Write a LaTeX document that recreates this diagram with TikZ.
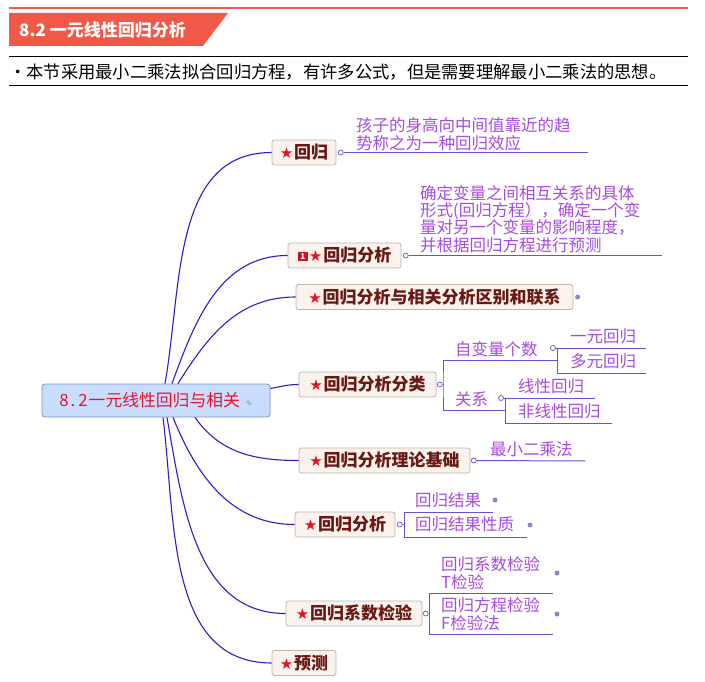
\documentclass[tikz,border=0pt]{standalone}
\usepackage{fontspec}
\newfontfamily\cjk{Noto Sans CJK SC}
\newfontfamily\symb{DejaVu Sans}
\usepackage{xcolor}
\usepackage{tikz}
\usetikzlibrary{positioning, calc}

\definecolor{bannerred}{RGB}{242,88,72}
\definecolor{branchblue}{RGB}{62,22,200}
\definecolor{leafpurple}{RGB}{168,75,225}
\definecolor{leafline}{RGB}{105,80,215}
\definecolor{boxfill}{RGB}{250,242,237}
\definecolor{boxdraw}{RGB}{195,180,172}
\definecolor{boxtext}{RGB}{105,25,20}
\definecolor{rootfill}{RGB}{200,220,252}
\definecolor{rootdraw}{RGB}{125,145,200}
\definecolor{roottext}{RGB}{235,20,45}
\definecolor{starred}{RGB}{228,20,30}
\definecolor{iconred}{RGB}{200,20,30}
\definecolor{dotblue}{RGB}{140,135,205}
\definecolor{notegreen}{RGB}{120,160,120}

\newcommand{\rstar}{{\symb\fontsize{15}{15}\selectfont\textcolor{starred}{★}}\kern1pt}
\newcommand{\numicon}{\raisebox{2.5pt}{\setlength{\fboxsep}{1.8pt}\colorbox{iconred}{\makebox[6.5pt]{\bfseries\fontsize{8}{8}\selectfont\textcolor{white}{1}}}}\kern1pt}

\begin{document}
\begin{tikzpicture}[x=1pt, y=-1pt,
    root/.style={rectangle, rounded corners=3pt, draw=rootdraw, fill=rootfill, line width=0.8pt,
        minimum width=228pt, minimum height=33pt, inner sep=0pt, text=roottext,
        font=\cjk\fontsize{16.8}{18}\selectfont},
    topic/.style={rectangle, rounded corners=2.5pt, draw=boxdraw, fill=boxfill, line width=0.8pt,
        minimum height=25pt, inner xsep=6pt, inner ysep=0pt, text=boxtext,
        font=\cjk\bfseries\fontsize{17}{18}\selectfont},
    leaf/.style={anchor=west, inner sep=0pt, text=leafpurple, align=left,
        font=\cjk\fontsize{16.5}{18}\selectfont},
    branch/.style={draw=branchblue, line width=1.1pt},
    uline/.style={draw=leafline, line width=1pt},
    knob/.style={circle, draw=leafline, fill=white, line width=0.7pt, inner sep=0pt, minimum size=5pt},
    marker/.style={circle, fill=dotblue, inner sep=0pt, minimum size=5pt}
]
\fill[white] (0,0) rectangle (705,682);
\useasboundingbox (0,0) rectangle (705,682);

% --- Title bar ---
\draw[bannerred, line width=2pt] (9,8) -- (688,8);
\fill[bannerred] (9,13) -- (228,13) -- (203,46) -- (9,46) -- cycle;
\node[anchor=west, inner sep=0pt, text=white, font=\cjk\bfseries\fontsize{17}{17}\selectfont] (title) at (19,30) {8.2 一元线性回归分析};
\draw[line width=1pt] (9,57) -- (688,57);
\node[anchor=west, inner sep=0pt, font=\cjk\fontsize{17.3}{18}\selectfont] (intro) at (9,72) {·本节采用最小二乘法拟合回归方程，有许多公式，但是需要理解最小二乘法的思想。};
\draw[line width=1pt] (9,86) -- (688,86);

% --- Root ---
\node[root] (root) at (156,400.5) {8\kern2pt.\kern3pt2\kern1pt一元线性回归与相关\kern6pt{\symb\fontsize{8}{8}\selectfont\textcolor{notegreen}{✎}}};

% --- Level 1: main topics ---
\node[topic, minimum width=64pt] (huigui) at (304,152.5) {\rstar 回归};
\node[topic, minimum width=113pt] (fenxi) at (344.5,255.5) {\numicon\rstar 回归分析};
\node[topic, minimum width=277pt] (qubie) at (434.5,297) {\rstar 回归分析与相关分析区别和联系};
\node[topic, minimum width=137pt] (fenlei) at (367.5,384.5) {\rstar 回归分析分类};
\node[topic, minimum width=171pt] (jichu) at (384.5,460.5) {\rstar 回归分析理论基础};
\node[topic, minimum width=100pt] (jieguo) at (345,524.5) {\rstar 回归分析};
\node[topic, minimum width=136pt] (jianyan) at (354,613.5) {\rstar 回归系数检验};
\node[topic, minimum width=64pt] (yuce) at (304,663) {\rstar 预测};

% --- Branches from the root ---
\draw[branch] ([xshift=9pt]root.north) to[out=80, in=180] (huigui.west);
\draw[branch] ([xshift=16pt]root.north) to[out=70, in=180] (fenxi.west);
\draw[branch] ([xshift=22pt]root.north) to[out=58, in=180] (qubie.west);
\draw[branch] ([yshift=12pt]root.east) to[out=10, in=180] (fenlei.west);
\draw[branch] ([xshift=39pt]root.south) to[out=-55, in=180] (jichu.west);
\draw[branch] ([xshift=17pt]root.south) to[out=-68, in=180] (jieguo.west);
\draw[branch] ([xshift=11pt]root.south) to[out=-80, in=180] (jianyan.west);
\draw[branch] ([xshift=7pt]root.south) to[out=-83, in=180] (yuce.west);

% --- Leaves: 回归 ---
\node[knob, right=1.5pt of huigui] (k1) {};
\coordinate (e1) at (588,152.5);
\draw[uline] (k1) -- (e1);
\node[leaf] (def1) at (356,134) {孩子的身高向中间值靠近的趋\\势称之为一种回归效应};

% --- Leaves: 回归分析 ---
\node[knob, right=1.5pt of fenxi] (k2) {};
\coordinate (e2) at (662,255.5);
\draw[uline] (k2) -- (e2);
\node[leaf, font=\cjk\fontsize{16.5}{17.3}\selectfont] (def2) at (420,219) {确定变量之间相互关系的具体\\形式(回归方程），确定一个变\\量对另一个变量的影响程度，\\并根据回归方程进行预测};

% --- Leaves: 区别和联系 ---
\node[marker, right=1.5pt of qubie] (k3) {};

% --- Leaves: 分类 ---
\node[knob, right=0.5pt of fenlei] (k4) {};
\coordinate (b4) at (443,384.5);
\coordinate (j41) at (557,360.5);
\coordinate (j42) at (505,410.5);
\draw[uline] (k4) -- (b4);
\draw[uline] (j41) -| (b4) |- (j42);
\node[leaf] (zbl) at (455,349) {自变量个数};
\node[leaf] (gx) at (455,399) {关系};

\node[knob] (k41) at (553,348) {};
\coordinate (e411) at (646,348);
\coordinate (e412) at (646,373);
\draw[uline] (k41) -- (e411);
\draw[uline] (j41 |- k41) |- (e412);
\node[leaf] (yiyuan) at (570,336) {一元回归};
\node[leaf] (duoyuan) at (570,361) {多元回归};

\node[knob] (k42) at (501,398) {};
\coordinate (e421) at (595,398);
\coordinate (e422) at (612,423);
\draw[uline] (k42) -- (e421);
\draw[uline] (j42 |- k42) |- (e422);
\node[leaf] (xianxing) at (518,386) {线性回归};
\node[leaf] (feixian) at (518,411) {非线性回归};

% --- Leaves: 理论基础 ---
\node[knob, right=0.5pt of jichu] (k5) {};
\coordinate (e5) at (585,461);
\draw[uline] (k5) -- (e5);
\node[leaf] (zxec) at (490,449) {最小二乘法};

% --- Leaves: 回归分析 (结果) ---
\node[knob, right=1.5pt of jieguo] (k6) {};
\coordinate (b6t) at (404,512);
\coordinate (b6b) at (404,537);
\draw[uline] (k6) -- (b6t |- k6);
\draw[uline] (493,512) -- (b6t) -- (b6b) -- (527,537);
\node[leaf] (jg) at (415,500) {回归结果};
\node[leaf] (jgxz) at (415,524) {回归结果性质};
\node[marker] at (495,500) {};
\node[marker] at (530,525) {};

% --- Leaves: 系数检验 ---
\node[knob, right=0.5pt of jianyan] (k7) {};
\coordinate (b7t) at (429,593);
\coordinate (b7b) at (429,634);
\draw[uline] (k7) -- (b7t |- k7);
\draw[uline] (553,593) -- (b7t) -- (b7b) -- (553,634);
\node[leaf] (tjy) at (441,573.5) {回归系数检验\\T检验};
\node[leaf] (fjy) at (441,614.5) {回归方程检验\\F检验法};
\node[marker] at (557,573) {};
\node[marker] at (557,614) {};

\end{tikzpicture}
\end{document}
